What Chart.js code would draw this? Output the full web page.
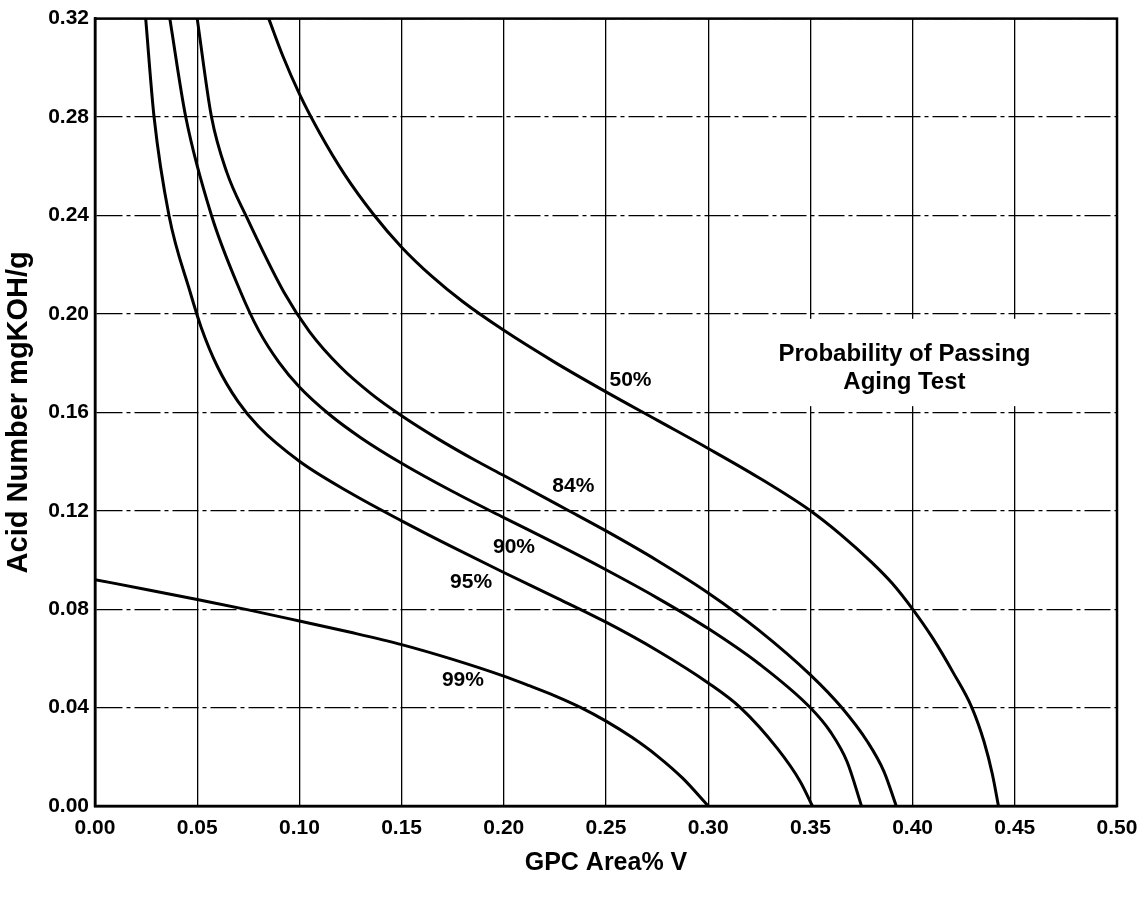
<!DOCTYPE html>
<html lang="en">
<head>
<meta charset="UTF-8">
<title>Probability of Passing Aging Test</title>
<script src="https://cdn.jsdelivr.net/npm/chart.js@4.4.1/dist/chart.umd.min.js"></script>
<style>
    body {
        margin: 0;
        background: #fff;
    }
    #wrap {
        width: 1148px;
        height: 902px;
    }
</style>
</head>
<body>
<div id="wrap"><canvas id="chart" width="1148" height="902"></canvas></div>
<script>
// tick labels
const xTickLabels = ['0.00', '0.05', '0.10', '0.15', '0.20', '0.25', '0.30', '0.35', '0.40', '0.45', '0.50'];
const yTickLabels = ['0.00', '0.04', '0.08', '0.12', '0.16', '0.20', '0.24', '0.28', '0.32'];

// curves: [GPC area%, acid number]
const p50 = [[0.085, 0.320], [0.092, 0.3046], [0.100, 0.2894], [0.110, 0.2734], [0.122, 0.2568], [0.136, 0.2407],
    [0.150, 0.2271], [0.165, 0.2151], [0.180, 0.2049], [0.200, 0.1933], [0.225, 0.1803], [0.250, 0.1683],
    [0.275, 0.1568], [0.300, 0.1453], [0.325, 0.1333], [0.350, 0.120], [0.365, 0.1102], [0.380, 0.099],
    [0.390, 0.0905], [0.400, 0.080], [0.410, 0.068], [0.420, 0.054], [0.429, 0.040], [0.435, 0.026],
    [0.439, 0.013], [0.442, 0.000]];
const p84 = [[0.050, 0.320], [0.057, 0.280], [0.0645, 0.2575], [0.0738, 0.240], [0.0923, 0.209], [0.105, 0.1927],
    [0.120, 0.1785], [0.135, 0.1676], [0.150, 0.1586], [0.168, 0.1491], [0.186, 0.1405], [0.200, 0.1343],
    [0.2305, 0.1206], [0.250, 0.1118], [0.275, 0.0998], [0.300, 0.0866], [0.325, 0.0713], [0.350, 0.0533],
    [0.365, 0.0403], [0.378, 0.026], [0.386, 0.014], [0.392, 0.000]];
const p90 = [[0.0366, 0.320], [0.0444, 0.280], [0.057, 0.240], [0.0712, 0.209], [0.080, 0.1934], [0.090, 0.1803],
    [0.100, 0.1703], [0.115, 0.1589], [0.130, 0.1497], [0.150, 0.1393], [0.175, 0.1278], [0.200, 0.1172],
    [0.225, 0.1068], [0.250, 0.096], [0.275, 0.0846], [0.300, 0.0721], [0.325, 0.0577], [0.350, 0.0399],
    [0.360, 0.0299], [0.368, 0.0179], [0.375, 0.000]];
const p95 = [[0.0248, 0.320], [0.0289, 0.280], [0.0362, 0.240], [0.0465, 0.209], [0.052, 0.1944], [0.060, 0.1784],
    [0.070, 0.1643], [0.080, 0.1542], [0.100, 0.1401], [0.125, 0.1272], [0.150, 0.1159], [0.175, 0.1052],
    [0.200, 0.0949], [0.225, 0.0849], [0.250, 0.0747], [0.275, 0.0632], [0.300, 0.050], [0.316, 0.0398],
    [0.334, 0.0232], [0.345, 0.010], [0.351, 0.000]];
const p99 = [[0.000, 0.092], [0.025, 0.088], [0.050, 0.0839], [0.075, 0.0797], [0.100, 0.0752], [0.125, 0.0706],
    [0.150, 0.0656], [0.175, 0.0596], [0.200, 0.0528], [0.2125, 0.0489], [0.225, 0.0448], [0.2375, 0.0401],
    [0.250, 0.0345], [0.2625, 0.028], [0.275, 0.0204], [0.2875, 0.0113], [0.300, 0.000]];

const curveNames = ['50%', '84%', '90%', '95%', '99%'];
const curves = [p50, p84, p90, p95, p99];
// where each percent label sits (data coords)
const curveLabelAt = [[0.262, 0.173], [0.234, 0.130], [0.205, 0.105], [0.184, 0.091], [0.180, 0.051]];
const noteLines = ['Probability of Passing', 'Aging Test'];

const FONT = "'Liberation Sans', Arial, sans-serif";

const annotations = {
    id: 'annotations',
    beforeDatasetsDraw(chart) {
        // the note sits in a blank patch of the grid
        const {ctx, scales: {x, y}} = chart;
        ctx.save();
        ctx.fillStyle = '#fff';
        const l = x.getPixelForValue(0.32), r = x.getPixelForValue(0.497);
        const t = y.getPixelForValue(0.198), b = y.getPixelForValue(0.1625);
        ctx.fillRect(l, t, r - l, b - t);
        ctx.restore();
    },
    afterDatasetsDraw(chart) {
        const {ctx, chartArea: a, scales: {x, y}} = chart;
        ctx.save();
        ctx.fillStyle = '#000';
        ctx.textAlign = 'center';
        ctx.textBaseline = 'middle';
        ctx.font = 'bold 21px ' + FONT;
        curveNames.forEach((name, i) => {
            ctx.fillText(name, x.getPixelForValue(curveLabelAt[i][0]), y.getPixelForValue(curveLabelAt[i][1]));
        });
        ctx.font = 'bold 24px ' + FONT;
        ctx.fillText(noteLines[0], x.getPixelForValue(0.396), y.getPixelForValue(0.1835));
        ctx.fillText(noteLines[1], x.getPixelForValue(0.396), y.getPixelForValue(0.1721));
        // frame
        ctx.strokeStyle = '#000';
        ctx.lineWidth = 2.5;
        ctx.strokeRect(a.left, a.top, a.right - a.left, a.bottom - a.top);
        ctx.restore();
    }
};

const ctx = document.getElementById('chart').getContext('2d');
new Chart(ctx, {
    type: 'scatter',
    data: {
        datasets: curves.map((pts, i) => ({
            label: curveNames[i],
            data: pts.map(p => ({x: p[0], y: p[1]})),
            showLine: true,
            borderColor: '#000',
            borderWidth: 3,
            pointRadius: 0,
            cubicInterpolationMode: 'monotone',
            fill: false
        }))
    },
    options: {
        responsive: false,
        animation: false,
        layout: {padding: {top: 15, right: 31, left: 0, bottom: 0}},
        plugins: {
            legend: {display: false},
            tooltip: {enabled: false}
        },
        scales: {
            x: {
                type: 'linear',
                min: 0,
                max: 0.5,
                ticks: {
                    stepSize: 0.05,
                    autoSkip: false,
                    maxRotation: 0,
                    padding: 10,
                    color: '#000',
                    font: {family: FONT, size: 21, weight: 'bold'},
                    callback: (v, i) => xTickLabels[i] ?? Number(v).toFixed(2)
                },
                grid: {color: '#000', lineWidth: 1.3, drawTicks: false},
                border: {color: '#000', width: 2.5},
                title: {
                    display: true,
                    text: 'GPC Area% V',
                    color: '#000',
                    font: {family: FONT, size: 25, weight: 'bold'},
                    padding: {top: 0, bottom: 24}
                },
                afterFit: s => { s.height = 96; }
            },
            y: {
                type: 'linear',
                min: 0,
                max: 0.32,
                ticks: {
                    stepSize: 0.04,
                    autoSkip: false,
                    padding: 6,
                    color: '#000',
                    font: {family: FONT, size: 21, weight: 'bold'},
                    callback: (v, i) => yTickLabels[i] ?? Number(v).toFixed(2)
                },
                grid: {color: '#000', lineWidth: 1.3, drawTicks: false},
                border: {color: '#000', width: 2.5, dash: [26, 4, 4, 4]},
                title: {
                    display: true,
                    text: 'Acid Number mgKOH/g',
                    color: '#000',
                    font: {family: FONT, size: 29, weight: 'bold'},
                    padding: {top: 2, bottom: 0}
                },
                afterFit: s => { s.width = 95; }
            }
        }
    },
    plugins: [annotations]
});
</script>
</body>
</html>
